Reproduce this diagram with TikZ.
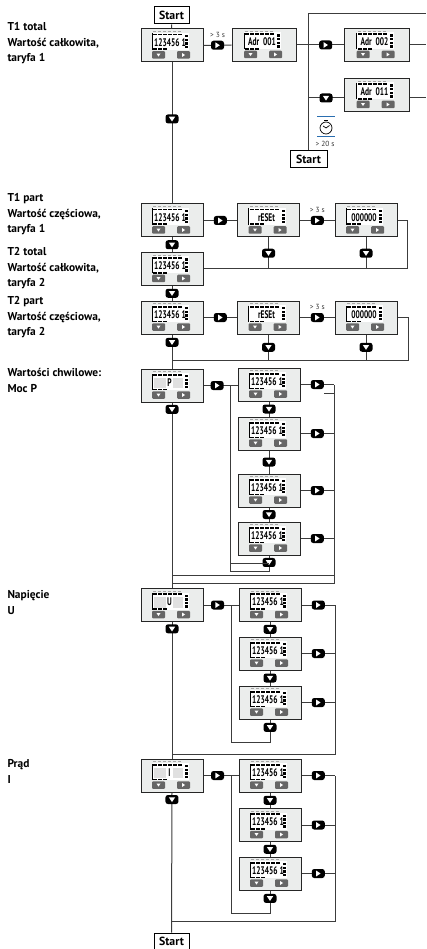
\documentclass[tikz,border=0pt]{standalone}
\usepackage{fontspec}
\setmainfont{PT Sans}
\usepackage{tikz}
\usetikzlibrary{positioning}
\definecolor{wire}{HTML}{3C3C3C}
\definecolor{panel}{HTML}{EBEDEC}
\definecolor{key}{HTML}{666666}
\definecolor{timer}{HTML}{2A6EB0}
% device: name, x, y, display text
\newcommand{\dev}[5][62]{%
  \begin{scope}[shift={(#3,#4)}]
    \node[devbox, minimum width=#1pt] (#2) at (0,0) {};
    \node[screen] (#2-scr) at (-1.5,-4) {};
    \foreach \i in {0,...,5} \fill[black] (-19+5*\i,-11.8) rectangle ++(4.4,1.8);
    \foreach \i in {0,...,5} \fill[black!35] (-19+5*\i,-14.2) rectangle ++(3.2,.8);
    \foreach \i in {0,...,3} \fill[black] (13,-10.5+3.6*\i) rectangle ++(3,2.4);
    \foreach \i in {0,...,2} \fill[black] (-19+5*\i,3) rectangle ++(4.4,1.6);
    \draw[black, line width=.8pt] (-20,-12) -- (-20,4.5);
    \node[lcdtxt] (#2-txt) at (-2,-3) {#5};
    \node[keybtn, tridn=2] (#2-dn) at (-13.5,9.5) {};
    \node[keybtn, trirt=2] (#2-rt) at (11.5,9.5) {};
  \end{scope}}
% measuring mode device, greyed digits round one letter
\newcommand{\devm}[4]{%
  \dev{#1}{#2}{#3}{}
  \begin{scope}[shift={(#2,#3)}]
    \fill[black!12] (-18,-8) rectangle (-6,2.5);
    \fill[black!12] (1,-8) rectangle (11,2.5);
    \node[lcdtxt] (#1-sym) at (-2.5,-3) {#4};
  \end{scope}}
\begin{document}
\begin{tikzpicture}[x=1pt, y=-1pt, line width=1pt,
  devbox/.style={draw=black!85, fill=panel, minimum height=33pt, inner sep=0pt},
  screen/.style={fill=white, minimum width=37pt, minimum height=17pt, inner sep=0pt},
  lcdtxt/.style={font=\bfseries\fontsize{11}{11}\selectfont, xscale=.68, inner sep=0pt},
  keybtn/.style={fill=key, rounded corners=1pt, minimum width=13pt, minimum height=7.5pt, inner sep=0pt},
  tridn/.style={path picture={\fill[white, sharp corners] (path picture bounding box.center) ++(-#1,-#1*.7) -- ++(2*#1,0) -- ++(-#1,1.5*#1) -- cycle;}},
  trirt/.style={path picture={\fill[white, sharp corners] (path picture bounding box.center) ++(-#1*.7,-#1) -- ++(1.5*#1,#1) -- ++(-1.5*#1,#1) -- cycle;}},
  btn/.style={fill=black, rounded corners=2.5pt, minimum width=13pt, minimum height=9pt, inner sep=0pt},
  btnd/.style={btn, tridn=3.2},
  btnr/.style={btn, trirt=2.9},
  wr/.style={draw=wire},
  startbox/.style={draw=black, fill=white, font=\bfseries\fontsize{11.8}{12}\selectfont, minimum width=35pt, minimum height=17pt, inner sep=0pt},
  lbl/.style={font=\bfseries\fontsize{11.4}{15.6}\selectfont, align=left, anchor=north west, inner sep=0pt},
  small/.style={font=\fontsize{7.4}{8}\selectfont, text=black!80, inner sep=0pt}
]
  \useasboundingbox (0,0) rectangle (426,949);

  \node[lbl] (t1) at (7,22) {T1 total\\Wartość całkowita,\\taryfa 1};
  \node[lbl] (t2) at (7,193) {T1 part\\Wartość częściowa,\\taryfa 1};
  \node[lbl] (t3) at (7,247) {T2 total\\Wartość całkowita,\\taryfa 2};
  \node[lbl] (t4) at (7,296) {T2 part\\Wartość częściowa,\\taryfa 2};
  \node[lbl] (t5) at (7,368) {Wartości chwilowe:\\Moc P};
  \node[lbl] (t6) at (7,590) {Napięcie\\U};
  \node[lbl] (t7) at (7,759) {Prąd\\I};

  \node[startbox] (s1) at (171.5,15.5) {Start};
  \node[startbox, minimum width=37pt] (s2) at (308.5,159) {Start};
  \node[startbox] (s3) at (171.5,941.5) {Start};

  \dev{d1}{172}{45.5}{123456 1}
  \dev[64]{d2}{264}{45}{Adr\ \ 001}
  \dev[65]{d3}{376.5}{45}{Adr\ \ 002}
  \dev[65]{d4}{376.5}{95}{Adr\ \ 011}
  \dev{d5}{172}{220.5}{123456 1}
  \dev{d6}{268.5}{220.5}{rESEt}
  \dev{d7}{366}{220.5}{000000}
  \dev{d8}{172}{269}{123456 1}
  \dev{d9}{172}{317.5}{123456 1}
  \dev{d10}{268.5}{317.5}{rESEt}
  \dev{d11}{366}{317.5}{000000}
  \devm{d12}{172}{385.5}{P}
  \dev{d13}{269}{384.5}{123456 1}
  \dev{d14}{269}{433.5}{123456 1}
  \dev{d15}{269}{490.5}{123456 1}
  \dev{d16}{269}{538.5}{123456 1}
  \devm{d17}{172}{605}{U}
  \dev{d18}{270}{605}{123456 1}
  \dev{d19}{270}{653.5}{123456 1}
  \dev{d20}{270}{702.5}{123456 1}
  \devm{d21}{172}{775.5}{I}
  \dev{d22}{270}{775.5}{123456 1}
  \dev{d23}{270}{825}{123456 1}
  \dev{d24}{270}{873.5}{123456 1}

  \coordinate (e0) at (426,14);
  \coordinate (e1) at (426,45);
  \coordinate (e2) at (426,98);
  \coordinate (j1) at (308.5,98);
  \coordinate (j2) at (230.5,385.5);
  \coordinate (j3) at (231,605);
  \coordinate (j4) at (231,775.5);
  \coordinate (r1) at (334,385);
  \coordinate (r2) at (335,605);
  \coordinate (r3) at (335,776);
  \coordinate (f1) at (172,583);
  \coordinate (f2) at (172,575);
  \coordinate (f3) at (334,575);
  \coordinate (f4) at (172,754);
  \coordinate (f5) at (172,921);
  \coordinate (g2) at (172,360);
  \coordinate (h1) at (230.5,563);
  \coordinate (h2) at (269,563);
  \coordinate (k1) at (230.5,571);
  \coordinate (k2) at (324,393);
  \coordinate (k3) at (334,393);
  \coordinate (b1) at (231,742);
  \coordinate (b2) at (231,913);

  % first row
  \draw[wr] (s1) -- (d1);
  \draw[wr] (d1.east) -- node[btnr] (n1) {} node[small, above=7pt of n1.center] (n1t) {> 3 s} (d2.west);
  \draw[wr] (d2.east) -- node[btnr, pos=.62] (n2) {} (d3.west);
  \draw[wr] (s2.north) |- (e0);
  \draw[wr] (d3.east) -- (e1);
  \draw[wr] (j1) -- node[btnd] (n3) {} (j1 -| d4.west);
  \draw[wr] (j1 -| d4.east) -- (e2);
  \draw[wr] (d1.south) -- node[btnd, pos=.4] (n4) {} (d5.north);

  % clock
  \node[circle, draw=black, line width=.7pt, minimum size=12pt, inner sep=0pt] (clk) at (326,128) {};
  \draw[line width=.7pt] (clk.center) -- ++(-3,-2) (clk.center) -- ++(3.5,-2.5);
  \draw[line width=1pt] (clk.north) ++(-2,-1.5) -- ++(4,0);
  \draw[timer] (317,117) -- (335,117) (317,137) -- (335,137);
  \node[small] (clkt) at (325,143.5) {> 20 s};

  % tariff rows
  \draw[wr] (d5.east) -- node[btnr] (n5) {} (d6.west);
  \draw[wr] (d6.east) -- node[btnr] (n6) {} node[small, above=7pt of n6.center] (n6t) {> 3 s} (d7.west);
  \draw[wr] (d7.east) -- ++(10,0) |- (d8.east);
  \draw[wr] (d6.south) -- node[btnd] (n7) {} (d6.south |- d8.east);
  \draw[wr] (d7.south) -- node[btnd] (n8) {} (d7.south |- d8.east);
  \draw[wr] (d5.south) -- node[btnd] (n9) {} (d8.north);
  \draw[wr] (d8.south) -- node[btnd] (n10) {} (d9.north);
  \draw[wr] (d9.east) -- node[btnr] (n11) {} (d10.west);
  \draw[wr] (d10.east) -- node[btnr] (n12) {} node[small, above=7pt of n12.center] (n12t) {> 3 s} (d11.west);
  \draw[wr] (d11.east) -- ++(11,0) |- (g2);
  \draw[wr] (d10.south) -- node[btnd] (n13) {} (d10.south |- g2);
  \draw[wr] (d11.south) -- node[btnd] (n14) {} (d11.south |- g2);
  \draw[wr] (d9.south) -- node[btnd, pos=.23] (n15) {} (d12.north);

  % power
  \draw[wr] (d12.east) -- node[btnr, pos=.4] (n16) {} (d12.east -| d13.west);
  \draw[wr] (d12.south) -- node[btnd, pos=.037] (n17) {} (d17.north);
  \draw[wr] (d13.south) -- node[btnd] (n18) {} (d14.north);
  \draw[wr] (d14.south) -- node[btnd] (n19) {} (d15.north);
  \draw[wr] (d15.south) -- node[btnd] (n20) {} (d16.north);
  \draw[wr] (j2) |- (k1 -| d16.south) -- node[btnd, pos=.55] (n21) {} (d16.south);
  \draw[wr] (h1) -- (h2);
  \draw[wr] (d13.east) -- node[btnr] (n22) {} (d13.east -| r1);
  \draw[wr] (d14.east) -- node[btnr] (n23) {} (d14.east -| r1);
  \draw[wr] (d15.east) -- node[btnr] (n24) {} (d15.east -| r1);
  \draw[wr] (d16.east) -- node[btnr] (n25) {} (d16.east -| r1);
  \draw[wr] (r1) |- (f1);
  \draw[wr] (f2) -- (f3);
  \draw[wr] (k2) -- (k3);

  % voltage
  \draw[wr] (d17.east) -- node[btnr, pos=.4] (n26) {} (d18.west);
  \draw[wr] (d17.south) -- node[btnd, pos=.05] (n27) {} (d21.north);
  \draw[wr] (d18.south) -- node[btnd] (n28) {} (d19.north);
  \draw[wr] (d19.south) -- node[btnd] (n29) {} (d20.north);
  \draw[wr] (j3) |- (b1 -| d20.south) -- node[btnd, pos=.65] (n30) {} (d20.south);
  \draw[wr] (d18.east) -- node[btnr] (n31) {} (d18.east -| r2);
  \draw[wr] (d19.east) -- node[btnr] (n32) {} (d19.east -| r2);
  \draw[wr] (d20.east) -- node[btnr] (n33) {} (d20.east -| r2);
  \draw[wr] (r2) |- (f4);

  % current
  \draw[wr] (d21.east) -- node[btnr, pos=.4] (n34) {} (d22.west);
  \draw[wr] (d21.south) -- node[btnd, pos=.05] (n35) {} (s3.north);
  \draw[wr] (d22.south) -- node[btnd] (n36) {} (d23.north);
  \draw[wr] (d23.south) -- node[btnd] (n37) {} (d24.north);
  \draw[wr] (j4) |- (b2 -| d24.south) -- node[btnd, pos=.65] (n38) {} (d24.south);
  \draw[wr] (d22.east) -- node[btnr] (n39) {} (d22.east -| r3);
  \draw[wr] (d23.east) -- node[btnr] (n40) {} (d23.east -| r3);
  \draw[wr] (d24.east) -- node[btnr] (n41) {} (d24.east -| r3);
  \draw[wr] (r3) |- (f5);
\end{tikzpicture}
\end{document}
